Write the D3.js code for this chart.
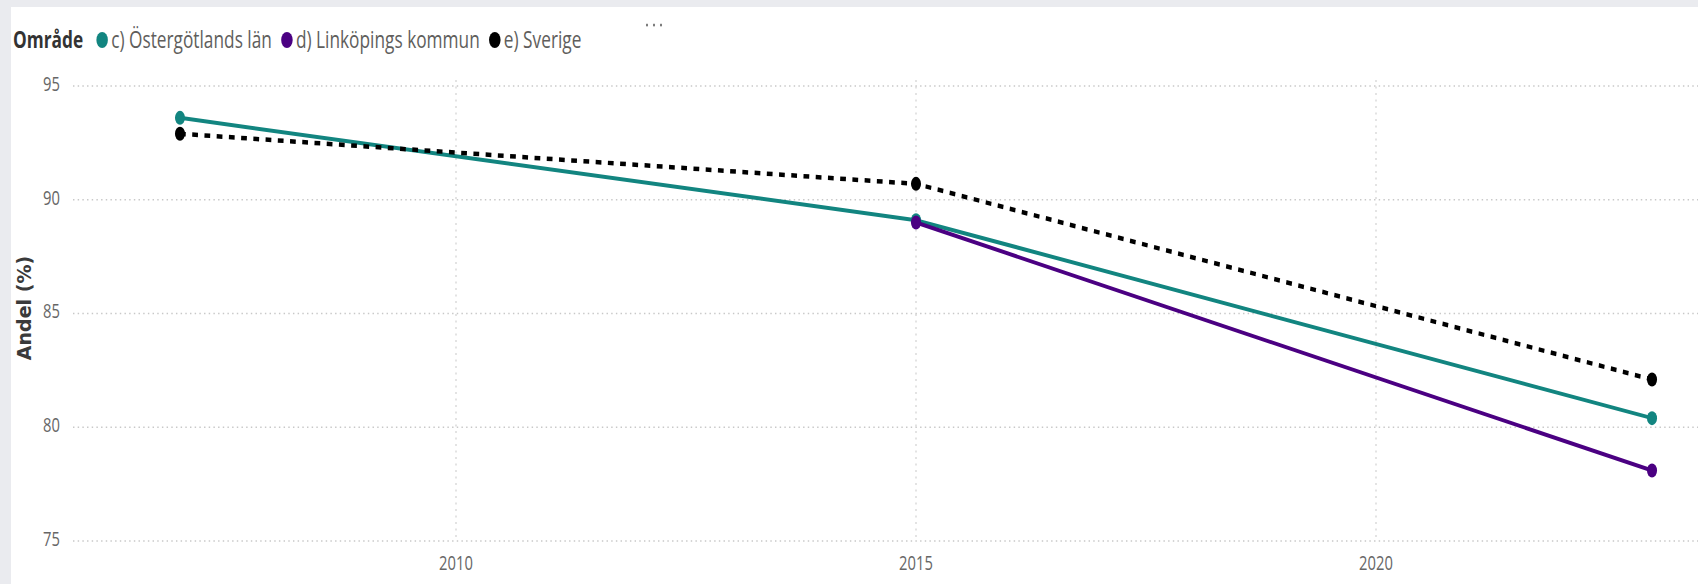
<!DOCTYPE html>
<html>
<head>
<meta charset="utf-8">
<script src="https://cdn.jsdelivr.net/npm/d3@7"></script>
<style>
  html, body { margin: 0; padding: 0; background: #eaebef; }
  svg { display: block; }
</style>
</head>
<body>
<svg id="chart" width="1698" height="584"></svg>
<script>
// Andel (%) per område och år
const years = [2007, 2015, 2023];
const ostergotland = [93.6, 89.1, 80.4];
const linkopingYears = [2015, 2023];
const linkoping = [89.0, 78.1];
const sverige = [92.9, 90.7, 82.1];

const yTicks = [75, 80, 85, 90, 95];
const xTicks = [2010, 2015, 2020];
const legendTitle = "Område";
const seriesNames = ["c) Östergötlands län", "d) Linköpings kommun", "e) Sverige"];
const seriesColors = ["#128580", "#4b0082", "#000000"];

const W = 1698, H = 584;
const SX = 0.72; // horizontal compression of the whole drawing

const svg = d3.select("#chart");

// white visual panel
svg.append("rect").attr("x", 11).attr("y", 7).attr("width", W - 11).attr("height", H - 7).attr("fill", "#ffffff");

const g = svg.append("g").attr("transform", `scale(${SX},1)`);

const x = d3.scaleLinear().domain([2007, 2023]).range([180 / SX, 1652 / SX]);
const y = d3.scaleLinear().domain([75, 95]).range([541, 86]);

const plotLeft = 73 / SX, plotRight = W / SX;

// horizontal gridlines
g.append("g").selectAll("line").data(yTicks).join("line")
  .attr("x1", plotLeft).attr("x2", plotRight)
  .attr("y1", d => y(d)).attr("y2", d => y(d))
  .attr("stroke", "#c8c8c8").attr("stroke-width", 1.3)
  .attr("stroke-dasharray", "2,4.5");

// vertical gridlines
g.append("g").selectAll("line").data(xTicks).join("line")
  .attr("x1", d => x(d)).attr("x2", d => x(d))
  .attr("y1", y(95) - 6).attr("y2", y(75))
  .attr("stroke", "#c8c8c8").attr("stroke-width", 1.4)
  .attr("stroke-dasharray", "2,4.5");

// y tick labels
g.append("g").selectAll("text").data(yTicks).join("text")
  .attr("x", 60 / SX).attr("y", d => y(d) + 5)
  .attr("text-anchor", "end")
  .attr("font-family", "'Open Sans', sans-serif").attr("font-size", 20.5)
  .attr("fill", "#666666")
  .text(d => d);

// x tick labels
g.append("g").selectAll("text").data(xTicks).join("text")
  .attr("x", d => x(d)).attr("y", 570)
  .attr("text-anchor", "middle")
  .attr("font-family", "'Open Sans', sans-serif").attr("font-size", 20.5)
  .attr("fill", "#666666")
  .text(d => d);

// y axis title
svg.append("text")
  .attr("transform", "translate(31,308) rotate(-90)")
  .attr("text-anchor", "middle")
  .attr("font-family", "'DejaVu Sans', sans-serif").attr("font-size", 19)
  .attr("font-weight", "bold").attr("fill", "#3a3a3a")
  .text("Andel (%)");

// lines
const line = d3.line().x(d => x(d[0])).y(d => y(d[1]));

const series = [
  { pts: years.map((yr, i) => [yr, ostergotland[i]]), color: seriesColors[0], dash: null },
  { pts: linkopingYears.map((yr, i) => [yr, linkoping[i]]), color: seriesColors[1], dash: null },
  { pts: years.map((yr, i) => [yr, sverige[i]]), color: seriesColors[2], dash: "8,9" }
];

series.forEach(s => {
  g.append("path")
    .datum(s.pts)
    .attr("d", line)
    .attr("fill", "none")
    .attr("stroke", s.color)
    .attr("stroke-width", s.dash ? 4.5 : 4)
    .attr("stroke-dasharray", s.dash);
  g.append("g").selectAll("circle").data(s.pts).join("circle")
    .attr("cx", d => x(d[0])).attr("cy", d => y(d[1]))
    .attr("r", 7).attr("fill", s.color);
});

// legend
const legend = g.append("g");
let lx = 13 / SX;
const ly = 48;
const title = legend.append("text")
  .attr("x", lx).attr("y", ly)
  .attr("font-family", "'Open Sans', sans-serif").attr("font-size", 24)
  .attr("font-weight", "bold").attr("fill", "#333333")
  .text(legendTitle);
lx += title.node().getComputedTextLength() + 19 / SX;
seriesNames.forEach((name, i) => {
  legend.append("circle").attr("cx", lx).attr("cy", 40).attr("r", 8).attr("fill", seriesColors[i]);
  const t = legend.append("text")
    .attr("x", lx + 9 / SX).attr("y", ly)
    .attr("font-family", "'Open Sans', sans-serif").attr("font-size", 24)
    .attr("fill", "#605e5c")
    .text(name);
  lx += 9 / SX + t.node().getComputedTextLength() + 15 / SX;
});

// visual header menu dots
g.append("g").selectAll("circle").data([0, 1, 2]).join("circle")
  .attr("cx", d => (647 + d * 7) / SX).attr("cy", 25).attr("r", 1.5)
  .attr("fill", "#777777");
</script>
</body>
</html>
